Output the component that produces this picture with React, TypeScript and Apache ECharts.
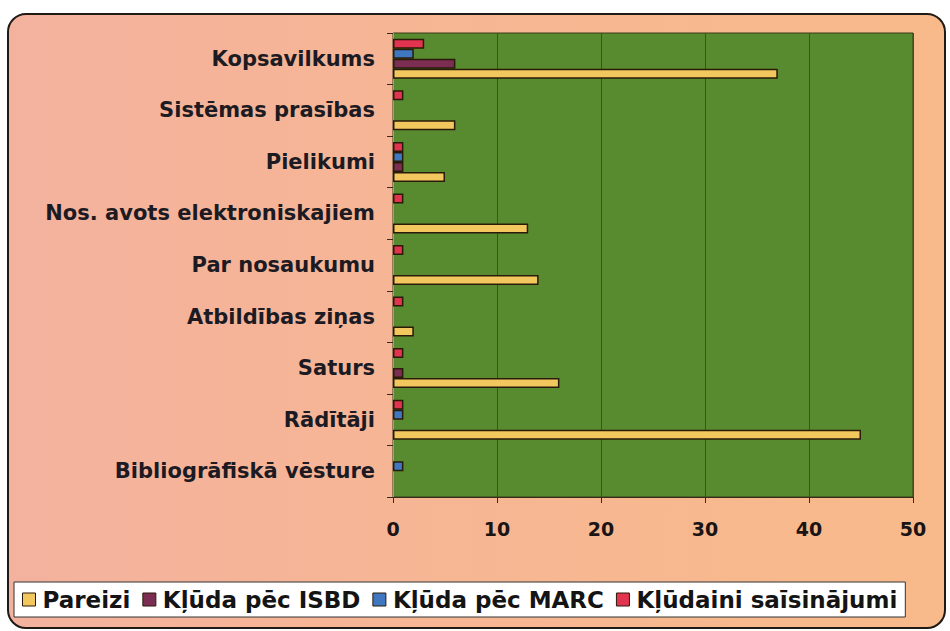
import React, { useEffect, useRef } from "react";
import * as echarts from "echarts";

// Categories, listed top to bottom as shown
const categories = [
  "Kopsavilkums",
  "Sistēmas prasības",
  "Pielikumi",
  "Nos. avots elektroniskajiem",
  "Par nosaukumu",
  "Atbildības ziņas",
  "Saturs",
  "Rādītāji",
  "Bibliogrāfiskā vēsture",
];

const seriesNames = ["Pareizi", "Kļūda pēc ISBD", "Kļūda pēc MARC", "Kļūdaini saīsinājumi"];

const pareizi = [37, 6, 5, 13, 14, 2, 16, 45, 0];
const kludaIsbd = [6, 0, 1, 0, 0, 0, 1, 0, 0];
const kludaMarc = [2, 0, 1, 0, 0, 0, 0, 1, 1];
const saisinajumi = [3, 1, 1, 1, 1, 1, 1, 1, 0];

const xTicks = [0, 10, 20, 30, 40, 50];

const colors = ["#f2c85e", "#7b2d52", "#3f78c0", "#e2334f"];

export default function App() {
  const ref = useRef<HTMLDivElement>(null);

  useEffect(() => {
    if (!ref.current) return;
    const chart = echarts.init(ref.current, null, { renderer: "svg" });
    const seriesData = [pareizi, kludaIsbd, kludaMarc, saisinajumi];
    const font = "'DejaVu Sans', Arial, sans-serif";

    // ECharts places bars of a horizontal chart top-down in series order,
    // so the series are added in reverse to put "Pareizi" at the bottom of each band.
    const order = [3, 2, 1, 0];

    chart.setOption({
      animation: false,
      backgroundColor: "#ffffff",
      graphic: [
        {
          type: "rect",
          z: -10,
          shape: { x: 8, y: 14, width: 937, height: 614, r: 18 },
          style: {
            fill: new echarts.graphic.LinearGradient(0, 0, 1, 0, [
              { offset: 0, color: "#f3b29e" },
              { offset: 0.35, color: "#f6b596" },
              { offset: 1, color: "#f8ba8a" },
            ]),
            stroke: "#1f1a16",
            lineWidth: 2,
          },
        },
      ],
      grid: {
        left: 393,
        right: 37,
        top: 33,
        bottom: 134,
        show: true,
        backgroundColor: "#588b2f",
        borderColor: "#3a3a1a",
        borderWidth: 1,
      },
      legend: {
        data: seriesNames,
        left: 14,
        top: 582,
        padding: [6, 8, 6, 8],
        itemGap: 12,
        itemWidth: 13,
        itemHeight: 13,
        backgroundColor: "#ffffff",
        borderColor: "#333333",
        borderWidth: 1,
        icon: "rect",
        textStyle: {
          fontFamily: font,
          fontWeight: "bold",
          fontSize: 23,
          color: "#141414",
          padding: [0, 0, 0, 2],
        },
        itemStyle: { borderColor: "#2a1a0a", borderWidth: 1 },
      },
      xAxis: {
        type: "value",
        min: 0,
        max: 50,
        interval: 10,
        axisLine: { show: true, lineStyle: { color: "#3a2a1a", width: 1 } },
        axisTick: { show: true, length: 6, lineStyle: { color: "#3a2a1a" } },
        axisLabel: {
          margin: 22,
          fontFamily: font,
          fontWeight: "bold",
          fontSize: 19,
          color: "#1a1414",
          formatter: (v: number) => (xTicks.includes(v) ? String(v) : ""),
        },
        splitLine: { show: true, lineStyle: { color: "#2f5a1e", width: 1 } },
      },
      yAxis: {
        type: "category",
        data: categories.slice().reverse(),
        axisLine: { show: true, lineStyle: { color: "#c98c78", width: 1 } },
        axisTick: { show: true, length: 6, lineStyle: { color: "#3a2a1a" } },
        axisLabel: {
          margin: 18,
          fontFamily: font,
          fontWeight: "bold",
          fontSize: 21,
          color: "#1c1a22",
        },
      },
      series: order.map((i) => ({
        name: seriesNames[i],
        type: "bar",
        barWidth: 10,
        barGap: "0%",
        itemStyle: { color: colors[i], borderColor: "#2a1a0a", borderWidth: 1.5 },
        data: seriesData[i]
          .slice()
          .reverse()
          .map((v) => (v === 0 ? "-" : v)),
      })),
    });

    return () => chart.dispose();
  }, []);

  return (
    <div
      ref={ref}
      style={{ position: "fixed", left: 0, top: 0, width: 950, height: 631 }}
    />
  );
}
